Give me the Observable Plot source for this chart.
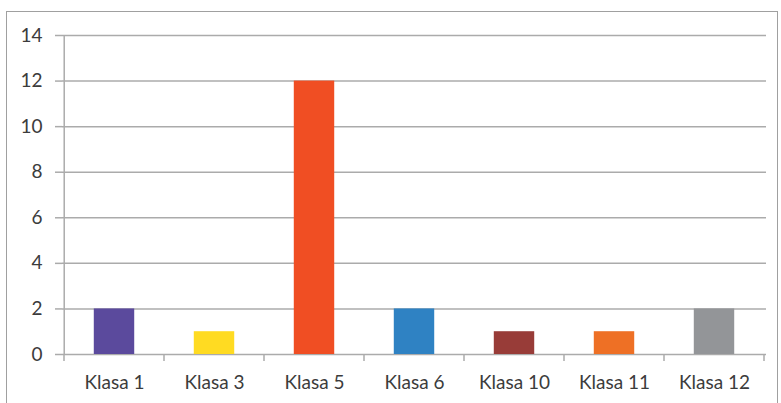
<!DOCTYPE html>
<html>
<head>
<meta charset="utf-8">
<script src="https://cdn.jsdelivr.net/npm/d3@7"></script>
<script src="https://cdn.jsdelivr.net/npm/@observablehq/plot@0.6"></script>
<style>
  html, body { margin: 0; padding: 0; background: #fff; }
  #wrap { position: relative; width: 781px; height: 403px; overflow: hidden; }
  #frame { position: absolute; left: 6px; top: 11px; width: 772px; height: 420px;
           border: 1.5px solid #a0a0a0; box-sizing: border-box; }
  #chart { position: absolute; left: 0; top: 0; }
</style>
</head>
<body>
<div id="wrap"><div id="frame"></div><div id="chart"></div></div>
<script>
const categories = ["Klasa 1", "Klasa 3", "Klasa 5", "Klasa 6", "Klasa 10", "Klasa 11", "Klasa 12"];
const values = [2, 1, 12, 2, 1, 1, 2];
const colors = ["#5B4A9D", "#FFDB22", "#F04E23", "#2F82C3", "#983C38", "#EE7025", "#939598"];
const yTicks = [0, 2, 4, 6, 8, 10, 12, 14];

const data = categories.map((c, i) => ({category: c, value: values[i], color: colors[i]}));

const W = 781, H = 403, mL = 62, mR = 15, mT = 35, mB = 49;
const bw = (W - mL - mR) / categories.length;
const inset = (bw - 41) / 2;

const chart = Plot.plot({
  width: W, height: H,
  marginLeft: mL, marginRight: mR, marginTop: mT, marginBottom: mB,
  style: {fontFamily: "Lato, sans-serif", fontSize: "19px", color: "#3c3c3c", background: "transparent"},
  x: {domain: categories, padding: 0, label: null},
  y: {domain: [0, 14], label: null},
  marks: [
    Plot.ruleY(yTicks, {y: d => d, stroke: "#ababab", strokeWidth: 1.5, dx: 0, strokeOpacity: 1}),
    Plot.barY(data, {x: "category", y: "value", fill: "color", insetLeft: inset, insetRight: inset}),
    Plot.axisY(yTicks, {tickSize: 7, tickPadding: 13, stroke: "#ababab", strokeWidth: 1.5, fill: "#3c3c3c", label: null}),
    Plot.axisX({tickSize: 0, tickPadding: 21, fill: "#3c3c3c", label: null}),
    Plot.ruleX([0], {x: () => categories[0], y1: 0, y2: 14, dx: -bw / 2, stroke: "#ababab", strokeWidth: 1.5})
  ]
});

// extend gridlines left to cover tick, and add category boundary ticks
const svg = d3.select(chart);
const xs = chart.scale("x");
const ys = chart.scale("y");
const y0 = ys.apply(0);
const edges = categories.map(c => xs.apply(c)).concat([xs.apply(categories[categories.length - 1]) + xs.bandwidth]);
const g = svg.append("g").attr("stroke", "#ababab").attr("stroke-width", 1.5);
edges.forEach(x => {
  g.append("line").attr("x1", x).attr("x2", x).attr("y1", y0).attr("y2", y0 + 7);
});

document.getElementById("chart").appendChild(chart);
</script>
</body>
</html>
